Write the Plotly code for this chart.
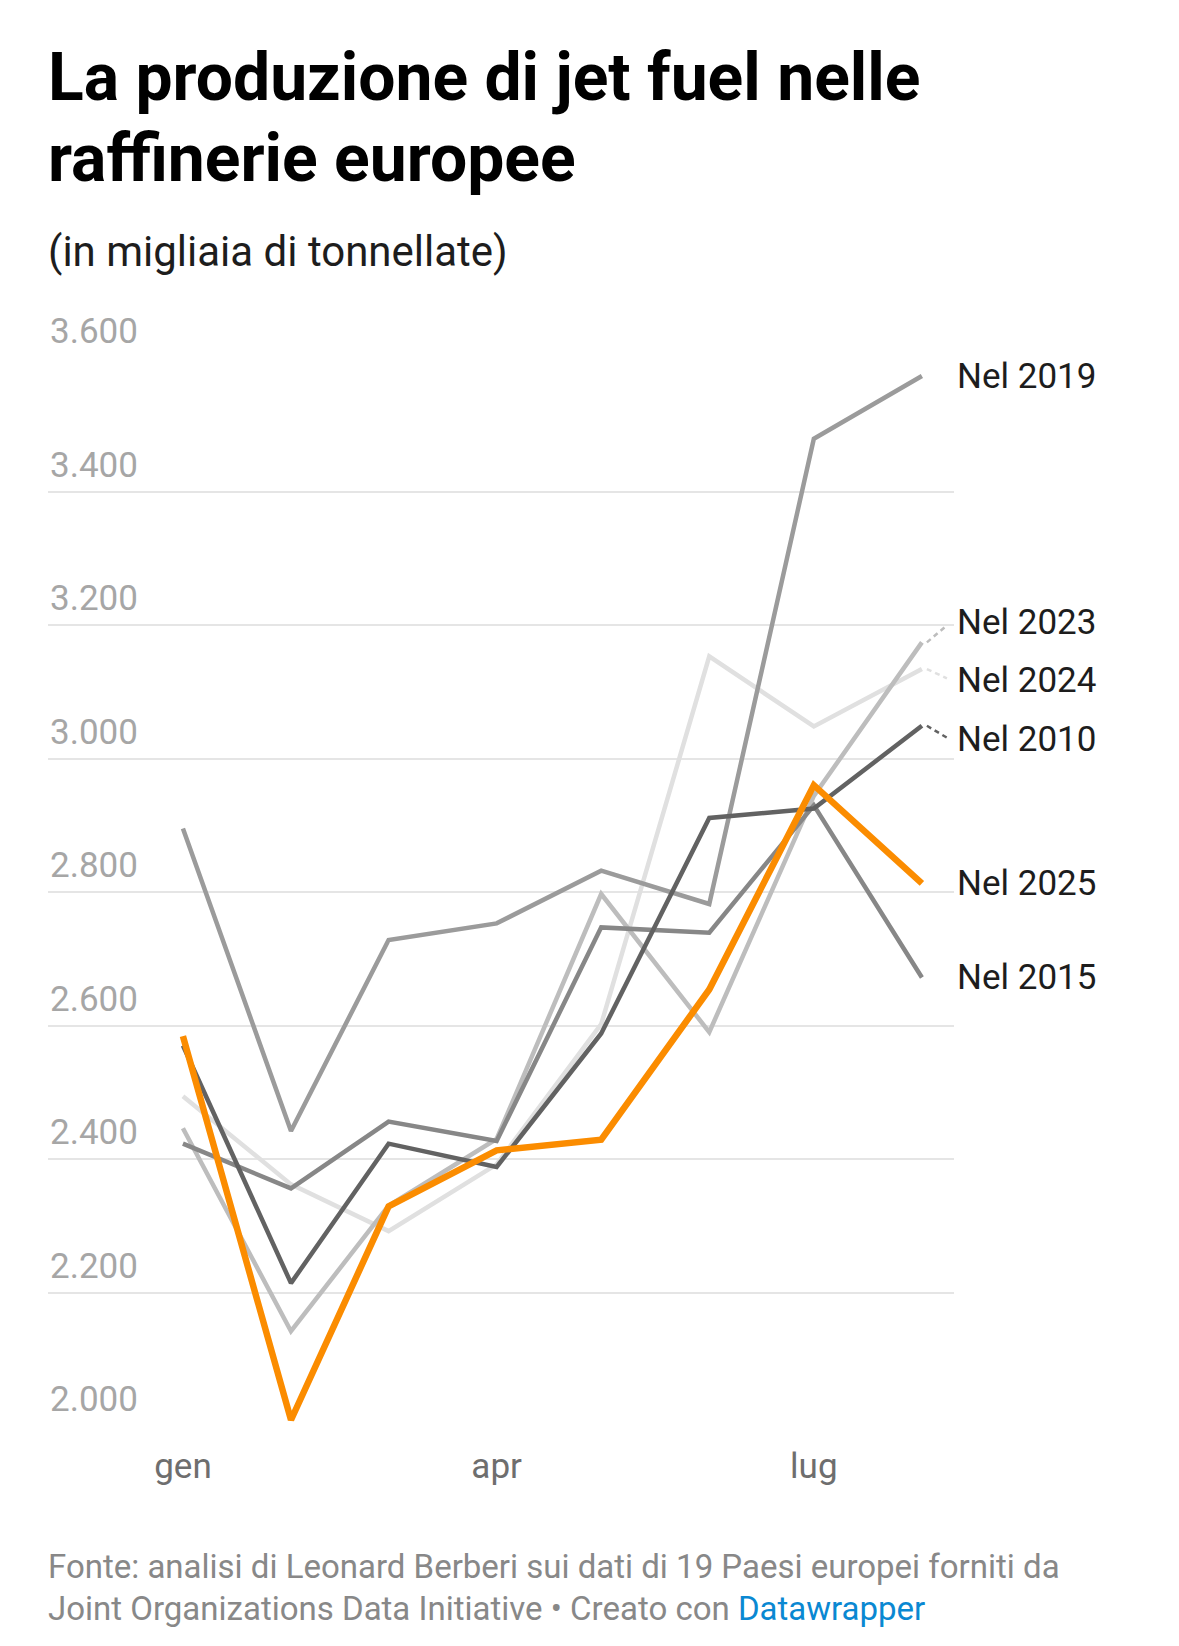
import plotly.graph_objects as go

# ---------------- data ----------------
months = ["2025-01-01", "2025-02-01", "2025-03-01", "2025-04-01",
          "2025-05-01", "2025-06-01", "2025-07-01", "2025-08-01"]

y2019 = [2895, 2442, 2728, 2753, 2832, 2782, 3479, 3573]
y2015 = [2423, 2356, 2456, 2427, 2747, 2739, 2930, 2672]
y2010 = [2570, 2214, 2423, 2388, 2588, 2911, 2925, 3049]
y2023 = [2446, 2142, 2330, 2430, 2797, 2590, 2944, 3174]
y2024 = [2494, 2362, 2292, 2392, 2602, 3153, 3048, 3134]
y2025 = [2584, 2009, 2329, 2413, 2429, 2654, 2960, 2813]

x_tickvals = ["2025-01-01", "2025-04-01", "2025-07-01"]
x_ticktext = ["gen", "apr", "lug"]
y_tickvals = [2000, 2200, 2400, 2600, 2800, 3000, 3200, 3400, 3600]
y_ticktext = ["2.000", "2.200", "2.400", "2.600", "2.800", "3.000", "3.200", "3.400", "3.600"]

title_lines = ["La produzione di jet fuel nelle", "raffinerie europee"]
subtitle = "(in migliaia di tonnellate)"
footer_lines = ["Fonte: analisi di Leonard Berberi sui dati di 19 Paesi europei forniti da",
                "Joint Organizations Data Initiative • Creato con "]
footer_link = "Datawrapper"

# ---------------- styles ----------------
# series drawn bottom -> top: (label, values, color, width, label yshift px)
series = [
    ("Nel 2024", y2024, "#e0e0e0", 4.5, -11),
    ("Nel 2023", y2023, "#bdbdbd", 4.5, 20),
    ("Nel 2019", y2019, "#9b9b9b", 4.5, 0),
    ("Nel 2015", y2015, "#878787", 4.5, 0),
    ("Nel 2010", y2010, "#626262", 4.5, -14),
    ("Nel 2025", y2025, "#fb8c00", 6.5, 0),
]

W, H = 1163, 1630       # figure size (page body has 8px margin)
OFF = 8
PL, PR, PT, PB = 48, 954, 358, 1426   # plot area in page px


def pyp(y):  # page y -> paper y
    return (PB - y) / (PB - PT)


def pxp(x):  # page x -> paper x
    return (x - PL) / (PR - PL)


FONT = "Roboto"

fig = go.Figure()
for name, vals, color, width, _ in series:
    fig.add_trace(go.Scatter(
        x=months, y=vals, mode="lines", name=name,
        line=dict(color=color, width=width),
        cliponaxis=False, hoverinfo="skip", showlegend=False,
    ))

annotations = []
shapes = []
# line-end labels and connectors
for name, vals, color, width, shift in series:
    annotations.append(dict(
        x=pxp(955), xref="paper", xanchor="left",
        y=vals[-1], yref="y", yanchor="middle", yshift=shift,
        text=name, showarrow=False,
        font=dict(family=FONT, size=35, color="#1d1d1d"),
    ))
    if shift != 0:
        shapes.append(dict(
            type="line", xref="x", yref="y",
            xsizemode="pixel", xanchor=months[-1], x0=5, x1=25,
            ysizemode="pixel", yanchor=vals[-1], y0=0, y1=shift * 0.85,
            line=dict(color=color, width=2.5, dash="5px,4px"),
            layer="above",
        ))

# y tick labels above gridlines
for v, t in zip(y_tickvals, y_ticktext):
    annotations.append(dict(
        x=pxp(48), xref="paper", xanchor="left",
        y=v, yref="y", yanchor="bottom", yshift=4,
        text=t, showarrow=False,
        font=dict(family=FONT, size=35, color="#a6a6a6"),
    ))


def text_block(text, y_bottom_page, size, color):
    return dict(x=pxp(46), xref="paper", xanchor="left",
                y=pyp(y_bottom_page), yref="paper", yanchor="bottom",
                text=text, showarrow=False,
                font=dict(family=FONT, size=size, color=color))


annotations.append(text_block("<b>" + title_lines[0] + "</b>", 118, 66, "#000000"))
annotations.append(text_block("<b>" + title_lines[1] + "</b>", 199, 66, "#000000"))
annotations.append(text_block(subtitle, 278, 42, "#1d1d1d"))
annotations.append(text_block(footer_lines[0], 1588, 33, "#888888"))
annotations.append(text_block(
    footer_lines[1] + "<span style='color:#0a88d2'>" + footer_link + "</span>",
    1630, 33, "#888888"))

fig.update_layout(
    width=W, height=H,
    margin=dict(l=PL - OFF, r=W - (PR - OFF), t=PT - OFF, b=H - (PB - OFF), pad=0),
    paper_bgcolor="white", plot_bgcolor="white",
    annotations=annotations, shapes=shapes,
    font=dict(family=FONT),
    xaxis=dict(
        type="date",
        range=["2024-11-23 07:00", "2025-08-10 05:00"],
        tickvals=x_tickvals, ticktext=x_ticktext,
        showgrid=False, zeroline=False, showline=False, ticks="",
        tickfont=dict(family=FONT, size=35, color="#6e6e6e"),
        ticklabelstandoff=16,
        fixedrange=True,
    ),
    yaxis=dict(
        range=[2000, 3600],
        tickvals=y_tickvals, showticklabels=False,
        showgrid=True, gridcolor="#e5e5e5", gridwidth=2,
        zeroline=False, showline=False, ticks="",
        fixedrange=True,
    ),
)

fig.write_html("out.html")
